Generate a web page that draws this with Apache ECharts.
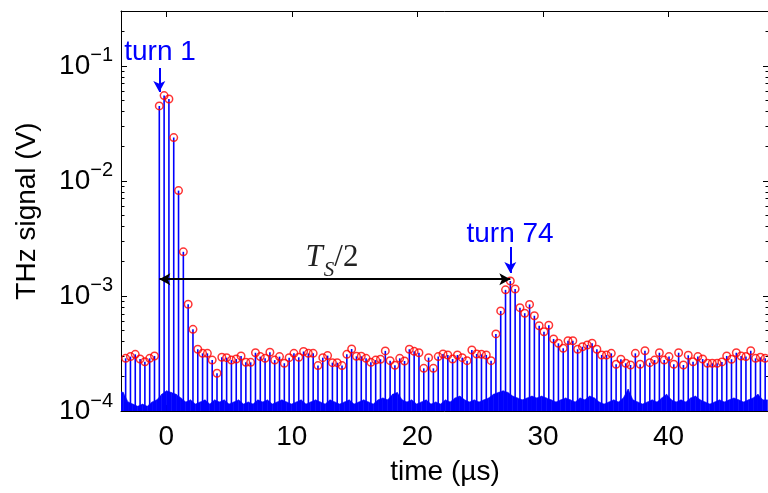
<!DOCTYPE html>
<html><head><meta charset="utf-8">
<script src="https://cdn.jsdelivr.net/npm/echarts@6/dist/echarts.min.js"></script>
<style>html,body{margin:0;padding:0;background:#fff}#c{width:768px;height:493px}</style>
</head><body><div id="c"></div>
<script>
// ---- data ----
const FIRST_TURN = -6;            // turn number of the first marked peak
const TURN1_TIME = -0.55;         // µs, time of turn 1
const TURN_PERIOD = 0.3829;       // µs, revolution period
// peak amplitude (V) for turns -6 ... 127
const peakValues = [
  2.87e-4, 2.97e-4, 3.11e-4, 2.83e-4, 2.68e-4, 2.87e-4, 3.01e-4,
  0.0449, 0.0552, 0.0516, 0.0238, 0.00824, 0.00242, 8.47e-4, 5.13e-4, 3.44e-4, 3.17e-4,
  3.17e-4, 2.77e-4, 2.13e-4, 2.93e-4, 2.91e-4, 2.77e-4, 2.83e-4, 3.01e-4, 2.65e-4, 2.65e-4,
  3.21e-4, 2.97e-4, 2.87e-4, 3.24e-4, 2.77e-4, 2.97e-4, 2.60e-4, 2.91e-4, 3.17e-4, 2.93e-4,
  3.29e-4, 3.17e-4, 3.17e-4, 2.48e-4, 2.91e-4, 3.03e-4, 2.63e-4, 2.63e-4, 2.48e-4, 3.11e-4,
  3.46e-4, 2.99e-4, 2.99e-4, 2.87e-4, 2.65e-4, 2.77e-4, 2.82e-4, 3.33e-4, 2.74e-4, 2.50e-4,
  2.87e-4, 2.72e-4, 3.44e-4, 3.30e-4, 3.21e-4, 2.35e-4, 2.91e-4, 2.35e-4, 2.97e-4, 3.13e-4,
  3.07e-4, 2.83e-4, 3.07e-4, 2.91e-4, 2.74e-4, 3.39e-4, 3.13e-4, 3.11e-4, 3.07e-4, 2.74e-4,
  4.68e-4, 7.41e-4, 1.13e-3, 1.35e-3, 1.15e-3, 7.91e-4, 7.08e-4, 8.44e-4, 6.73e-4, 5.51e-4,
  4.89e-4, 5.57e-4, 4.23e-4, 3.88e-4, 3.51e-4, 4.08e-4, 4.08e-4, 3.44e-4, 3.62e-4, 3.75e-4,
  3.88e-4, 3.44e-4, 3.07e-4, 3.07e-4, 3.17e-4, 2.55e-4, 2.82e-4, 2.60e-4, 2.51e-4, 3.17e-4,
  2.55e-4, 3.34e-4, 2.63e-4, 2.77e-4, 3.21e-4, 2.77e-4, 2.97e-4, 2.55e-4, 3.21e-4, 2.51e-4,
  3.05e-4, 2.68e-4, 2.97e-4, 2.83e-4, 2.60e-4, 2.60e-4, 2.60e-4, 2.67e-4, 3.01e-4, 2.82e-4,
  3.21e-4, 3.01e-4, 2.97e-4, 3.34e-4, 2.87e-4, 2.93e-4, 2.87e-4
];
// noise floor (V) between turns, at half-turn positions -7.5 ... 127.5
const FIRST_HALF_TURN = -7.5;
const noiseLevels = [
  1.50e-4,1.45e-4,1.20e-4,1.15e-4,1.10e-4,1.15e-4,1.10e-4,1.20e-4,1.25e-4,1.40e-4,
  1.50e-4,1.45e-4,1.40e-4,1.30e-4,1.20e-4,1.25e-4,1.15e-4,1.20e-4,1.25e-4,1.15e-4,
  1.25e-4,1.20e-4,1.25e-4,1.15e-4,1.20e-4,1.25e-4,1.15e-4,1.20e-4,1.15e-4,1.25e-4,
  1.20e-4,1.25e-4,1.15e-4,1.20e-4,1.25e-4,1.20e-4,1.15e-4,1.20e-4,1.25e-4,1.15e-4,
  1.20e-4,1.25e-4,1.20e-4,1.15e-4,1.25e-4,1.20e-4,1.15e-4,1.20e-4,1.25e-4,1.15e-4,
  1.20e-4,1.25e-4,1.20e-4,1.15e-4,1.25e-4,1.30e-4,1.25e-4,1.40e-4,1.45e-4,1.25e-4,
  1.20e-4,1.25e-4,1.15e-4,1.20e-4,1.25e-4,1.15e-4,1.20e-4,1.15e-4,1.25e-4,1.20e-4,
  1.30e-4,1.35e-4,1.25e-4,1.20e-4,1.25e-4,1.20e-4,1.25e-4,1.30e-4,1.40e-4,1.45e-4,
  1.50e-4,1.45e-4,1.35e-4,1.30e-4,1.25e-4,1.30e-4,1.35e-4,1.30e-4,1.35e-4,1.30e-4,
  1.25e-4,1.20e-4,1.25e-4,1.30e-4,1.25e-4,1.20e-4,1.30e-4,1.25e-4,1.35e-4,1.30e-4,
  1.20e-4,1.15e-4,1.20e-4,1.25e-4,1.20e-4,1.30e-4,1.55e-4,1.25e-4,1.20e-4,1.15e-4,
  1.20e-4,1.25e-4,1.20e-4,1.30e-4,1.40e-4,1.25e-4,1.20e-4,1.25e-4,1.20e-4,1.30e-4,
  1.35e-4,1.25e-4,1.20e-4,1.15e-4,1.20e-4,1.25e-4,1.20e-4,1.25e-4,1.30e-4,1.25e-4,
  1.20e-4,1.25e-4,1.30e-4,1.40e-4,1.25e-4,1.25e-4
];
// axes
const X_MIN = -3.6, X_MAX = 48;
const Y_MIN = 1e-4, Y_MAX = 0.3;
const xTickValues = [0, 10, 20, 30, 40];
const yTickValues = [1e-4, 1e-3, 1e-2, 1e-1];
const yMinorTickValues = [2e-4,3e-4,4e-4,5e-4,6e-4,7e-4,8e-4,9e-4,
  2e-3,3e-3,4e-3,5e-3,6e-3,7e-3,8e-3,9e-3,
  2e-2,3e-2,4e-2,5e-2,6e-2,7e-2,8e-2,9e-2, 0.2, 0.3];
const xTitle = 'time (µs)';
const yTitle = 'THz signal (V)';
// annotations
const ANNOT_TURN_A = 1, ANNOT_TURN_B = 74;
const labelTurnA = 'turn 1', labelTurnB = 'turn 74';
const TS_ARROW_V = 1.40e-3;
const ARROW_A = [0.0960, 0.0593];     // from, to (V)
const ARROW_B = [2.67e-3, 1.585e-3];
const LABEL_A_POS = [-0.49, 0.132];
const LABEL_B_POS = [27.38, 3.46e-3];
const LABEL_TS_POS = [13.2, 2.14e-3];

// ---- build ----
const FONT = "'Liberation Sans', Arial, Helvetica, sans-serif";
const SERIF = "'Liberation Serif', 'DejaVu Serif', serif";
const turnTime = turn => TURN1_TIME + (turn - 1) * TURN_PERIOD;
const peakData = peakValues.map((v, i) => [turnTime(FIRST_TURN + i), v]);
const noiseData = [];
for (let i = 0; i < noiseLevels.length - 1; i++) {
  noiseData.push([turnTime(FIRST_HALF_TURN + i), noiseLevels[i],
                  turnTime(FIRST_HALF_TURN + i + 1), noiseLevels[i + 1]]);
}
const tA = turnTime(ANNOT_TURN_A), tB = turnTime(ANNOT_TURN_B);

const yLabelFmt = v => {
  const l = Math.log10(v), e = Math.round(l);
  return Math.abs(l - e) < 1e-6 ? '{b|10}{s|\u2212' + Math.abs(e) + '}' : '';
};
const black = '#000';
const baseY = {
  type: 'log', logBase: 10, min: Y_MIN, max: Y_MAX, splitLine: {show: false}
};

const chart = echarts.init(document.getElementById('c'), null, {renderer: 'canvas'});
chart.setOption({
  animation: false,
  backgroundColor: '#fff',
  grid: {left: 121, top: 11, width: 648, height: 400, containLabel: false, outerBoundsMode: 'none'},
  xAxis: [
    {type: 'value', min: X_MIN, max: X_MAX, position: 'bottom',
     name: xTitle, nameLocation: 'middle', nameGap: 47,
     nameTextStyle: {fontFamily: FONT, fontSize: 28, color: black},
     axisLine: {show: true, onZero: false, lineStyle: {color: black, width: 1}},
     axisTick: {show: true, inside: true, length: 6, customValues: xTickValues, lineStyle: {color: black}},
     axisLabel: {show: true, customValues: xTickValues, margin: 12, fontFamily: FONT, fontSize: 28, color: black},
     splitLine: {show: false}},
    {type: 'value', min: X_MIN, max: X_MAX, position: 'top',
     axisLine: {show: true, onZero: false, lineStyle: {color: black, width: 1}},
     axisTick: {show: true, inside: true, length: 6, customValues: xTickValues, lineStyle: {color: black}},
     axisLabel: {show: false}, splitLine: {show: false}}
  ],
  yAxis: [
    Object.assign({}, baseY, {position: 'left',
      name: yTitle, nameLocation: 'middle', nameGap: 80,
      nameTextStyle: {fontFamily: FONT, fontSize: 28, color: black},
      axisLine: {show: true, onZero: false, lineStyle: {color: black, width: 1}},
      axisTick: {show: true, inside: true, length: 6, customValues: yTickValues, lineStyle: {color: black}},
      axisLabel: {show: true, customValues: yTickValues, margin: 8, formatter: yLabelFmt,
        rich: {b: {fontFamily: FONT, fontSize: 28, color: black},
               s: {fontFamily: FONT, fontSize: 20, color: black, padding: [0, 0, 20, 0]}}}}),
    Object.assign({}, baseY, {position: 'left',
      axisLine: {show: false, onZero: false},
      axisTick: {show: true, inside: true, length: 3.5, customValues: yMinorTickValues, lineStyle: {color: black}},
      axisLabel: {show: false}}),
    Object.assign({}, baseY, {position: 'right',
      axisLine: {show: true, onZero: false, lineStyle: {color: black, width: 1}},
      axisTick: {show: true, inside: true, length: 6, customValues: yTickValues, lineStyle: {color: black}},
      axisLabel: {show: false}}),
    Object.assign({}, baseY, {position: 'right',
      axisLine: {show: false, onZero: false},
      axisTick: {show: true, inside: true, length: 3.5, customValues: yMinorTickValues, lineStyle: {color: black}},
      axisLabel: {show: false}})
  ],
  series: [
    {
      type: 'custom', name: 'noise', xAxisIndex: 0, yAxisIndex: 0, clip: true, z: 1, silent: true,
      encode: {x: [0, 2], y: [1, 3]},
      data: noiseData,
      renderItem: (params, api) => {
        const x0 = api.value(0), y0 = api.value(1), x1 = api.value(2), y1 = api.value(3);
        const pts = [api.coord([x0, y0]), api.coord([x1, y1]), api.coord([x1, Y_MIN]), api.coord([x0, Y_MIN])];
        return {type: 'polygon', shape: {points: pts}, style: {fill: '#0000ff', stroke: '#0000ff', lineWidth: 0.5}};
      }
    },
    {
      type: 'custom', name: 'stems', xAxisIndex: 0, yAxisIndex: 0, clip: true, z: 2, silent: true,
      encode: {x: 0, y: 1},
      data: peakData,
      renderItem: (params, api) => {
        const x = api.value(0), y = api.value(1);
        const p1 = api.coord([x, y]), p0 = api.coord([x, Y_MIN]);
        return {type: 'line', shape: {x1: p0[0], y1: p0[1], x2: p1[0], y2: p1[1]},
                style: {stroke: '#0000ff', lineWidth: 1.6}};
      }
    },
    {
      type: 'scatter', name: 'peaks', xAxisIndex: 0, yAxisIndex: 0, z: 3, silent: true,
      data: peakData, symbol: 'circle', symbolSize: 7.5,
      itemStyle: {color: 'rgba(0,0,0,0)', borderColor: '#ff0000', borderWidth: 1.5},
      markLine: {
        silent: true, animation: false, label: {show: false}, emphasis: {disabled: true},
        symbolSize: [9, 11],
        data: [
          [{coord: [tA, TS_ARROW_V], symbol: 'arrow', lineStyle: {color: black, width: 2, type: 'solid'}},
           {coord: [tB, TS_ARROW_V], symbol: 'arrow'}],
          [{coord: [tA, ARROW_A[0]], symbol: 'none', lineStyle: {color: '#0000ff', width: 2, type: 'solid'}},
           {coord: [tA, ARROW_A[1]], symbol: 'arrow'}],
          [{coord: [tB, ARROW_B[0]], symbol: 'none', lineStyle: {color: '#0000ff', width: 2, type: 'solid'}},
           {coord: [tB, ARROW_B[1]], symbol: 'arrow'}]
        ]
      },
      markPoint: {
        silent: true, animation: false, symbol: 'circle', symbolSize: 1,
        itemStyle: {color: 'rgba(0,0,0,0)'},
        data: [
          {coord: LABEL_A_POS, label: {show: true, position: 'inside', formatter: labelTurnA,
            fontFamily: FONT, fontSize: 28, color: '#0000ff'}},
          {coord: LABEL_B_POS, label: {show: true, position: 'inside', formatter: labelTurnB,
            fontFamily: FONT, fontSize: 28, color: '#0000ff'}},
          {coord: LABEL_TS_POS, label: {show: true, position: 'inside',
            formatter: '{t|T}{u|S}{r|/2}',
            rich: {t: {fontFamily: SERIF, fontStyle: 'italic', fontSize: 31, color: '#222'},
                   u: {fontFamily: SERIF, fontStyle: 'italic', fontSize: 21, color: '#222', padding: [26, 0, 0, 1]},
                   r: {fontFamily: SERIF, fontSize: 31, color: '#222'}}}}
        ]
      }
    }
  ]
});
</script></body></html>
